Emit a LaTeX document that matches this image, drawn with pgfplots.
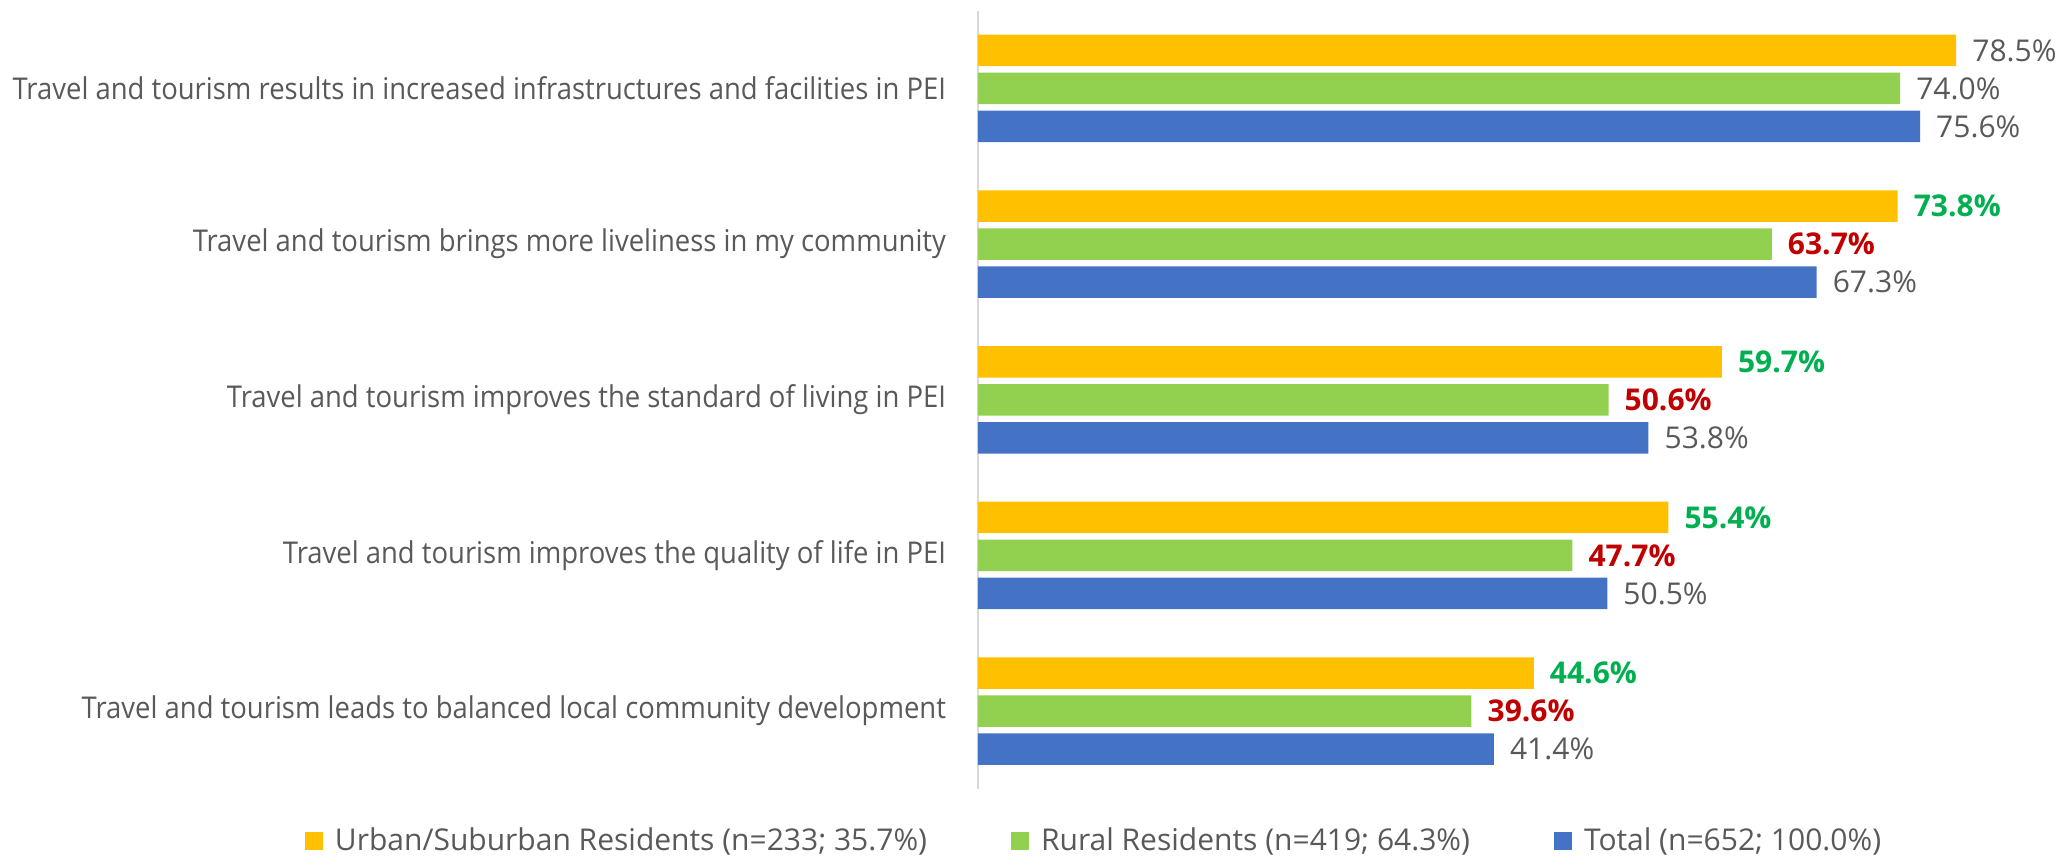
\documentclass[border=0pt]{standalone}
\usepackage{pgfplots}
\pgfplotsset{compat=1.18}
\usepackage{fontspec}
\setmainfont{Open Sans}
\newfontfamily\catfont[FakeStretch=0.915]{Open Sans}
\definecolor{cYel}{HTML}{FFC000}
\definecolor{cGrn}{HTML}{92D050}
\definecolor{cBlu}{HTML}{4472C4}
\definecolor{lGrn}{HTML}{00B050}
\definecolor{lRed}{HTML}{C00000}
\definecolor{txt}{HTML}{595959}
\newcommand\N[1]{\textcolor{txt}{#1\%}}
\newcommand\G[1]{\textcolor{lGrn}{\bfseries #1\%}}
\newcommand\R[1]{\textcolor{lRed}{\bfseries #1\%}}
\begin{document}
\begin{tikzpicture}
\begin{axis}[
  scale only axis, width=529.6pt, height=389.25pt,
  xmin=0, xmax=85, ymin=-0.5, ymax=4.5,
  axis x line=none, axis y line*=left,
  y axis line style={draw=black!15, line width=0.75pt, -},
  ytick={0,1,2,3,4},
  yticklabels={Travel and tourism leads to balanced local community development,
    Travel and tourism improves the quality of life in PEI,
    Travel and tourism improves the standard of living in PEI,
    Travel and tourism brings more liveliness in my community,
    Travel and tourism results in increased infrastructures and facilities in PEI},
  major tick length=0pt, ytick style={draw=none},
  yticklabel style={font=\catfont\fontsize{15}{17}\selectfont, text=txt, inner sep=0pt, xshift=-15.8pt},
  xbar, bar width=15.75pt,
  point meta=explicit symbolic,
  nodes near coords={\pgfplotspointmeta},
  nodes near coords style={anchor=west, inner sep=0pt, xshift=7.9pt, font=\fontsize{15}{17}\selectfont},
  legend columns=3,
  legend image code/.code={\fill[#1] (0pt,-4.5pt) rectangle (9pt,4.5pt);},
  legend style={at={(-0.6354,-0.0668)}, anchor=west, draw=none, fill=none, inner sep=0pt, outer sep=0pt,
    font=\fontsize{15}{17}\selectfont, text=txt,
    nodes={inner sep=0pt},
    /tikz/every odd column/.append style={column sep=6pt},
    /tikz/every even column/.append style={column sep=42pt}},
]
\addplot[fill=cYel, draw=none, bar shift=19pt] coordinates {
  (78.5,4) [\N{78.5}] (73.8,3) [\G{73.8}] (59.7,2) [\G{59.7}] (55.4,1) [\G{55.4}] (44.6,0) [\G{44.6}]};
\addlegendentry{Urban/Suburban Residents (n=233; 35.7\%)}
\addplot[fill=cGrn, draw=none, bar shift=0pt] coordinates {
  (74.0,4) [\N{74.0}] (63.7,3) [\R{63.7}] (50.6,2) [\R{50.6}] (47.7,1) [\R{47.7}] (39.6,0) [\R{39.6}]};
\addlegendentry{Rural Residents (n=419; 64.3\%)}
\addplot[fill=cBlu, draw=none, bar shift=-19pt] coordinates {
  (75.6,4) [\N{75.6}] (67.3,3) [\N{67.3}] (53.8,2) [\N{53.8}] (50.5,1) [\N{50.5}] (41.4,0) [\N{41.4}]};
\addlegendentry{Total (n=652; 100.0\%)}
\end{axis}
\pgfresetboundingbox
\path (-489pt,-34.5pt) rectangle (541.5pt,394.5pt);
\end{tikzpicture}
\end{document}
